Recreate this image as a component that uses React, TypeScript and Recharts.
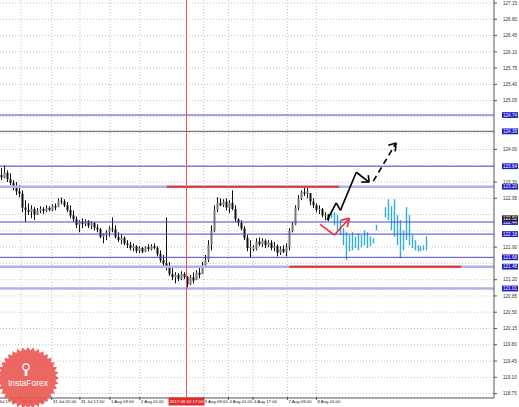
import React from "react";
import { Bar, CartesianGrid, ComposedChart, ReferenceLine, XAxis, YAxis } from "recharts";

// hourly bars, one slot each (3 px)
const hi = [
  123.6, 123.66, 123.55, 123.49, 123.34, 123.3, 123.23, 123.12, 122.91, 122.84,
  122.8, 122.76, 122.74, 122.78, 122.76, 122.8, 122.78, 122.82, 122.84, 122.95,
  122.97, 122.93, 122.87, 122.8, 122.69, 122.56, 122.48, 122.52, 122.5, 122.48,
  122.46, 122.44, 122.39, 122.31, 122.2, 122.26, 122.35, 122.54, 122.37, 122.22,
  122.18, 122.13, 122.05, 122.01, 121.98, 121.94, 121.92, 121.9, 121.92, 121.96,
  121.96, 121.98, 121.92, 121.83, 121.73, 122.54, 121.58, 121.45, 121.36, 121.34,
  121.38, 121.36, 121.28, 121.3, 121.36, 121.4, 121.49, 121.58, 121.73, 122.05,
  122.37, 122.8, 122.97, 122.95, 122.93, 122.95, 122.91, 123.12, 122.8, 122.52,
  122.48, 122.35, 122.16, 122.05, 121.94, 122.09, 122.11, 122.09, 122.07, 122.05,
  122.05, 122.01, 121.96, 121.92, 121.94, 121.98, 122.31, 122.44, 122.8, 123.02,
  123.12, 123.19, 123.17, 123.06, 122.95, 122.84, 122.8, 122.74, 122.65, 122.61,
];
const lo = [
  123.34, 123.38, 123.3, 123.23, 123.12, 123.02, 122.97, 122.65, 122.44, 122.59,
  122.52, 122.48, 122.59, 122.63, 122.61, 122.65, 122.67, 122.67, 122.69, 122.76,
  122.82, 122.76, 122.65, 122.52, 122.44, 122.31, 122.22, 122.31, 122.35, 122.31,
  122.29, 122.26, 122.22, 122.09, 121.98, 122.05, 122.13, 122.22, 122.09, 122.01,
  121.96, 121.94, 121.88, 121.83, 121.81, 121.77, 121.77, 121.77, 121.79, 121.81,
  121.83, 121.85, 121.7, 121.57, 121.49, 121.4, 121.28, 121.19, 121.12, 121.17,
  121.19, 121.21, 121.02, 121.08, 121.12, 121.19, 121.23, 121.32, 121.45, 121.58,
  121.83, 122.22, 122.65, 122.78, 122.76, 122.69, 122.63, 122.69, 122.44, 122.35,
  122.26, 122.05, 121.81, 121.68, 121.81, 121.83, 121.92, 121.9, 121.88, 121.9,
  121.83, 121.81, 121.7, 121.73, 121.77, 121.7, 121.83, 122.22, 122.37, 122.69,
  122.91, 123.0, 122.95, 122.8, 122.74, 122.65, 122.61, 122.54, 122.48, 122.46,
];
const cl = [
  123.4, 123.5, 123.36, 123.28, 123.18, 123.1, 123.05, 122.75, 122.7, 122.66,
  122.72, 122.6, 122.68, 122.72, 122.68, 122.74, 122.7, 122.78, 122.75, 122.9,
  122.88, 122.8, 122.7, 122.58, 122.5, 122.38, 122.45, 122.4, 122.46, 122.36,
  122.42, 122.32, 122.28, 122.12, 122.18, 122.22, 122.3, 122.28, 122.12, 122.05,
  122.1, 121.98, 121.95, 121.88, 121.92, 121.82, 121.88, 121.8, 121.9, 121.86,
  121.92, 121.88, 121.75, 121.62, 121.55, 121.48, 121.32, 121.25, 121.3, 121.22,
  121.32, 121.26, 121.1, 121.25, 121.18, 121.35, 121.3, 121.5, 121.62, 121.95,
  122.25, 122.7, 122.85, 122.8, 122.88, 122.75, 122.85, 122.72, 122.5, 122.42,
  122.3, 122.1, 121.88, 121.9, 121.86, 122.02, 121.96, 122.04, 121.94, 122.0,
  121.88, 121.92, 121.78, 121.86, 121.8, 121.9, 122.25, 122.38, 122.75, 122.95,
  123.08, 123.05, 123.1, 122.88, 122.8, 122.7, 122.72, 122.58, 122.6, 122.5,
];
const firstOpen = 123.45;
const pinkBar = 84;

// projected (cyan) bars after the last real bar
const fcHi = [
  122.69, 122.65, 122.59, 122.48, 122.31, 122.22, 122.16, 122.22, 122.13, 122.2,
  122.16, 122.26, 122.22, 122.13, 122.09, 122.38, null, null, 122.76, 122.93,
  122.78, 122.93, 122.59, 122.48, 122.26, 122.76, 122.59, 122.16, 122.05, 121.94,
  121.92, 121.94, 122.13,
];
const fcLo = [
  122.52, 122.37, 122.26, 122.16, 121.94, 121.62, 121.81, 121.83, 121.88, 121.83,
  121.9, 121.94, 121.88, 121.92, 121.98, 122.26, null, null, 122.54, 122.48,
  122.26, 122.12, 121.94, 121.66, 121.83, 122.05, 121.94, 121.88, 121.83, 121.81,
  121.81, 121.83, 121.83,
];

const priceTicks = [
  127.15, 126.8, 126.45, 126.1, 125.75, 125.4, 125.05, 124.7, 124.35, 124.0,
  123.65, 123.3, 122.95, 122.6, 122.25, 121.9, 121.55, 121.2, 120.85, 120.5,
  120.15, 119.8, 119.45, 119.1, 118.75,
];
const levelPrices = [124.74, 124.39, 123.64, 123.2, 122.44, 122.18, 121.68, 121.48, 121.01];
const lastPrice = 122.52;

const timeLabels = [
  "27 Jul 17:00", "28 Jul 09:00", "31 Jul 01:00", "31 Jul 17:00", "1 Aug 09:00",
  "2 Aug 01:00", "3 Aug 09:00", "4 Aug 01:00", "4 Aug 17:00", "7 Aug 09:00", "8 Aug 01:00",
];
const timeAt = [-2.7, 7, 17.3, 26.7, 36.7, 46.7, 68.0, 76.3, 84.5, 96, 105.7];
const markerAt = 62.3;
const markerLabel = "2017.08.02 17:00";

// drawn annotations (slot, price)
const upPath = [
  [109.3, 122.48], [112.3, 122.85], [113.7, 122.69], [119, 123.51], [123.3, 123.3],
];
const upHead = [[120.7, 123.3], [123.3, 123.3], [123, 123.45]];
const dashPath = [[124.7, 123.32], [132.3, 124.14]];
const dashHead = [[129.7, 124.09], [132.3, 124.14], [132, 123.96]];
const redPath = [[106.9, 122.39], [111.7, 122.16], [116.7, 122.52]];
const redHead = [[113.9, 122.48], [116.7, 122.52], [116, 122.33]];

const SLOTS = 165;
const rows = Array.from({ length: SLOTS }, (_, i) => {
  if (i < hi.length) {
    return { x: i + 0.5, kind: "bar", range: [lo[i], hi[i]], o: i === 0 ? firstOpen : cl[i - 1], c: cl[i], i };
  }
  const j = i - hi.length;
  if (j < fcHi.length && fcHi[j] != null) {
    return { x: i + 0.5, kind: "fc", range: [fcLo[j], fcHi[j]], i };
  }
  return { x: i + 0.5, kind: "none", range: null, i };
});

const FONT = "'Liberation Sans', Arial, sans-serif";
const BLUE = "#4646d2";
const LAV = "#aeb2e6";

function CandleShape(props: any) {
  const { x, y, width, height, payload } = props;
  if (!payload || !payload.range || height == null || isNaN(y)) return null;
  const top = Math.min(y, y + height);
  const h = Math.abs(height);
  const cx = Math.round(x + width / 2) + 0.5;
  const [l, hh] = payload.range;
  const py = (v: number) => top + ((hh - Math.max(l, Math.min(hh, v))) / (hh - l)) * h;
  if (payload.kind === "fc") {
    return <line x1={cx} x2={cx} y1={top} y2={top + Math.max(h, 2)} stroke="#36aed4" strokeWidth={1.4} />;
  }
  const b1 = py(Math.max(payload.o, payload.c));
  const b2 = py(Math.min(payload.o, payload.c));
  const fill = payload.i === pinkBar ? "#e060c0" : payload.c >= payload.o ? "#777" : "#111";
  return (
    <g>
      <line x1={cx} x2={cx} y1={top} y2={top + h} stroke="#111" strokeWidth={1} />
      <rect x={cx - 1} y={b1} width={2} height={Math.max(1, b2 - b1)} fill={fill} />
    </g>
  );
}

function PriceTick(props: any) {
  const { x, y, payload } = props;
  const v = payload.value;
  const isLevel = levelPrices.includes(v);
  const isLast = v === lastPrice;
  if (isLevel || isLast) {
    return (
      <g>
        <rect x={x + 8} y={y - 2.9} width={16} height={5.8} fill={isLast ? "#231712" : "#1b1bc4"} />
        <text x={x + 9} y={y + 1.7} fontSize={4.6} fill="#fff" fontFamily={FONT}>
          {v.toFixed(2)}
        </text>
      </g>
    );
  }
  return (
    <g>
      <line x1={x} x2={x + 3} y1={y} y2={y} stroke="#555" />
      <text x={x + 9} y={y + 1.7} fontSize={4.6} fill="#333" fontFamily={FONT}>
        {v.toFixed(2)}
      </text>
    </g>
  );
}

function TimeTick(props: any) {
  const { x, y, payload } = props;
  const v = payload.value;
  if (v === markerAt) {
    return (
      <g>
        <rect x={x - 18} y={y - 0.5} width={36} height={8} fill="#e42b2b" />
        <text x={x} y={y + 5.2} fontSize={4.4} fill="#fff" textAnchor="middle" fontFamily={FONT}>
          {markerLabel}
        </text>
      </g>
    );
  }
  const k = timeAt.indexOf(v);
  return (
    <g>
      <line x1={x} x2={x} y1={y - 1} y2={y + 2} stroke="#555" />
      <text x={x + 1} y={y + 5.2} fontSize={4.3} fill="#111" fontFamily={FONT}>
        {timeLabels[k]}
      </text>
    </g>
  );
}

function segs(path: number[][]) {
  const out = [];
  for (let k = 0; k < path.length - 1; k++) {
    out.push([{ x: path[k][0], y: path[k][1] }, { x: path[k + 1][0], y: path[k + 1][1] }]);
  }
  return out;
}

function levelStroke(v: number) {
  if (v === 124.39) return { stroke: "#5a5a5a", w: 1 };
  if (v === 123.2 || v === 121.48 || v === 121.01) return { stroke: LAV, w: 2.5 };
  return { stroke: BLUE, w: 1 };
}

function Logo() {
  const pts: string[] = [];
  const n = 36;
  for (let k = 0; k < n * 2; k++) {
    const r = k % 2 === 0 ? 31 : 27.5;
    const a = (Math.PI * k) / n;
    pts.push(`${28 + r * Math.cos(a)},${378 + r * Math.sin(a)}`);
  }
  return (
    <svg width={519} height={407} style={{ position: "absolute", left: 0, top: 0, pointerEvents: "none" }}>
      <polygon points={pts.join(" ")} fill="#e8524c" opacity={0.88} />
      <circle cx={26} cy={367} r={3.2} fill="none" stroke="#fff" strokeWidth={1.2} />
      <rect x={24.7} y={370} width={2.6} height={6} fill="#fff" />
      <text x={28} y={386} fontSize={8.5} fill="#fff" textAnchor="middle" fontFamily={FONT}>
        InstaForex
      </text>
    </svg>
  );
}

export default function App() {
  // plain price labels that sit under a level box are hidden, as on the terminal
  const boxed = [...levelPrices, lastPrice];
  const plain = priceTicks.filter((t) => boxed.every((b) => Math.abs(b - t) >= 0.09));
  const all = [...plain, ...levelPrices, lastPrice];
  return (
    <div style={{ position: "absolute", left: 0, top: 0, width: 519, height: 407, background: "#fff" }}>
      <ComposedChart width={519} height={407} data={rows} margin={{ top: 0, right: 0, bottom: 0, left: 0 }}>
        <CartesianGrid
          stroke="#c4c4c4"
          strokeDasharray="1 2"
          horizontalValues={priceTicks}
          verticalValues={timeAt}
        />
        <XAxis
          type="number"
          dataKey="x"
          domain={[0, SLOTS]}
          ticks={[...timeAt, markerAt]}
          interval={0}
          height={9}
          tickLine={false}
          axisLine={{ stroke: "#555" }}
          tick={<TimeTick />}
          tickMargin={0}
          tickSize={0}
          allowDataOverflow
        />
        <YAxis
          type="number"
          orientation="right"
          domain={[118.655, 127.2145]}
          ticks={all}
          interval={0}
          width={25}
          tickLine={false}
          axisLine={{ stroke: "#555" }}
          tick={<PriceTick />}
          tickMargin={0}
          tickSize={0}
          allowDataOverflow
        />
        {levelPrices.map((v) => {
          const s = levelStroke(v);
          return <ReferenceLine key={v} y={v} stroke={s.stroke} strokeWidth={s.w} />;
        })}
        <ReferenceLine segment={[{ x: 55.7, y: 123.2 }, { x: 113.3, y: 123.2 }]} stroke="#e63232" strokeWidth={2} />
        <ReferenceLine segment={[{ x: 96.7, y: 121.48 }, { x: 154, y: 121.48 }]} stroke="#e63232" strokeWidth={2} />
        <ReferenceLine x={markerAt} stroke="#f05050" strokeWidth={1} />
        <Bar dataKey="range" barSize={3} shape={<CandleShape />} isAnimationActive={false} />
        {segs(upPath).concat(segs(upHead)).map((s, k) => (
          <ReferenceLine key={"u" + k} segment={s} stroke="#000" strokeWidth={1.6} />
        ))}
        {segs(dashPath).map((s, k) => (
          <ReferenceLine key={"d" + k} segment={s} stroke="#000" strokeWidth={1.6} strokeDasharray="6 4" />
        ))}
        {segs(dashHead).map((s, k) => (
          <ReferenceLine key={"dh" + k} segment={s} stroke="#000" strokeWidth={1.6} />
        ))}
        {segs(redPath).concat(segs(redHead)).map((s, k) => (
          <ReferenceLine key={"r" + k} segment={s} stroke="#ee3030" strokeWidth={1.6} />
        ))}
      </ComposedChart>
      <Logo />
    </div>
  );
}
